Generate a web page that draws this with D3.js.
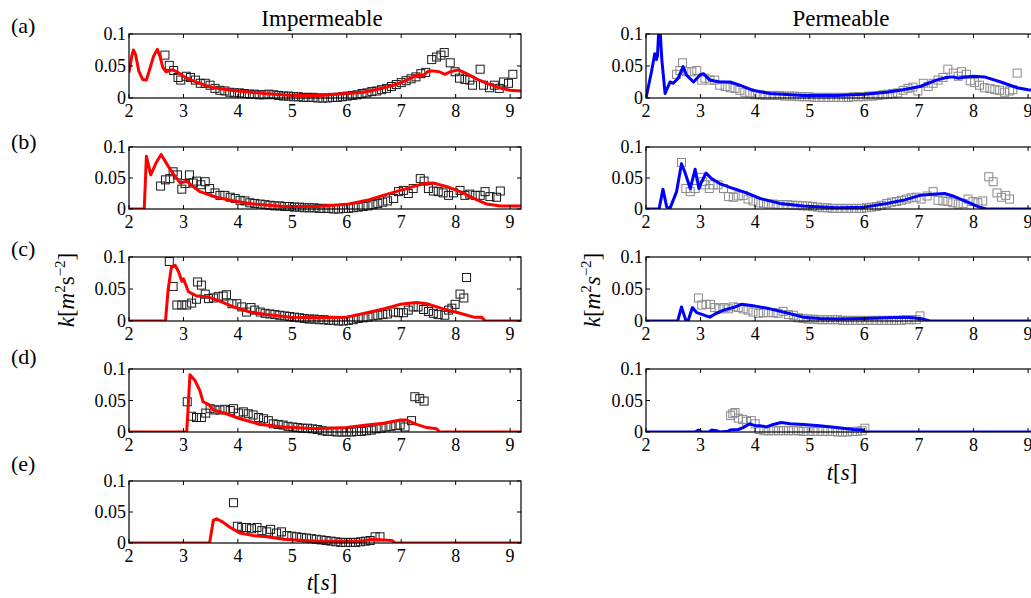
<!DOCTYPE html>
<html><head><meta charset="utf-8">
<script src="https://cdn.jsdelivr.net/npm/d3@7"></script>
</head><body style="margin:0">
<svg id="c" width="1031" height="598"></svg>
<script>
// ---- tick definitions ----
const xTicks = [2,3,4,5,6,7,8,9];
const yTicks = [0,0.05,0.1];
const yTickLabels = ["0","0.05","0.1"];
const panelLetters = ["(a)","(b)","(c)","(d)","(e)"];

// ---- Impermeable: measured (squares) ----
const impExpA = [[2.66,.067],[2.74,.051],[2.82,.043],[2.90,.032],[2.95,.028],[3.05,.034],[3.13,.032],[3.22,.028],[3.31,.023],[3.40,.023],[3.49,.020],[3.58,.015],[3.67,.012],[3.76,.011],[3.85,.009],[3.94,.008],[4.03,.008],[4.12,.007],[4.21,.006],[4.30,.006],[4.39,.005],[4.48,.005],[4.57,.006],[4.66,.005],[4.75,.004],[4.84,.003],[4.93,.003],[5.02,.002],[5.11,.002],[5.20,.001],[5.29,.001],[5.38,.001],[5.47,.000],[5.56,.000],[5.65,.000],[5.74,.001],[5.83,.001],[5.92,.002],[6.01,.003],[6.10,.004],[6.19,.005],[6.28,.007],[6.37,.008],[6.46,.010],[6.55,.011],[6.64,.013],[6.73,.015],[6.82,.018],[6.91,.021],[7.00,.024],[7.09,.027],[7.18,.030],[7.27,.033],[7.36,.038],[7.45,.040],[7.56,.060],[7.65,.064],[7.73,.067],[7.79,.071],[7.90,.055],[7.99,.041],[8.07,.031],[8.17,.029],[8.26,.028],[8.31,.020],[8.45,.045],[8.51,.020],[8.62,.016],[8.71,.020],[8.80,.015],[8.88,.025],[8.97,.023],[9.05,.037]];
const impExpB = [[2.58,.037],[2.67,.047],[2.75,.049],[2.81,.060],[2.89,.055],[2.97,.032],[3.03,.041],[3.11,.055],[3.18,.042],[3.24,.045],[3.32,.039],[3.40,.044],[3.48,.033],[3.58,.026],[3.67,.022],[3.76,.022],[3.86,.019],[3.95,.017],[4.04,.014],[4.13,.013],[4.22,.010],[4.31,.009],[4.41,.008],[4.50,.007],[4.59,.006],[4.68,.005],[4.77,.005],[4.86,.004],[4.95,.004],[5.04,.003],[5.13,.003],[5.22,.002],[5.31,.002],[5.40,.002],[5.49,.001],[5.58,.001],[5.67,.001],[5.76,.000],[5.85,.000],[5.94,.001],[6.03,.001],[6.12,.002],[6.21,.003],[6.30,.004],[6.39,.005],[6.48,.007],[6.57,.009],[6.66,.011],[6.75,.013],[6.86,.017],[6.95,.028],[7.04,.030],[7.13,.025],[7.22,.033],[7.35,.049],[7.42,.045],[7.50,.033],[7.59,.029],[7.68,.028],[7.77,.026],[7.87,.022],[7.96,.026],[8.08,.030],[8.17,.022],[8.26,.024],[8.36,.022],[8.45,.022],[8.54,.028],[8.63,.020],[8.75,.019],[8.82,.029]];
const impExpC = [[2.74,.093],[2.81,.054],[2.88,.025],[2.97,.025],[3.06,.025],[3.15,.028],[3.24,.034],[3.26,.061],[3.33,.056],[3.40,.042],[3.46,.035],[3.55,.036],[3.64,.038],[3.73,.039],[3.79,.041],[3.89,.027],[3.98,.027],[4.07,.022],[4.16,.014],[4.24,.021],[4.31,.017],[4.41,.014],[4.50,.012],[4.59,.011],[4.68,.010],[4.77,.009],[4.86,.008],[4.95,.007],[5.04,.006],[5.13,.005],[5.22,.004],[5.31,.003],[5.40,.003],[5.49,.002],[5.58,.002],[5.67,.001],[5.76,.001],[5.85,.000],[5.94,.000],[6.03,.001],[6.12,.002],[6.21,.004],[6.30,.005],[6.39,.006],[6.48,.008],[6.57,.009],[6.66,.010],[6.75,.011],[6.86,.014],[6.95,.013],[7.04,.013],[7.13,.017],[7.22,.022],[7.31,.022],[7.41,.018],[7.50,.015],[7.59,.012],[7.68,.010],[7.80,.009],[7.87,.017],[7.93,.020],[7.99,.026],[8.08,.042],[8.15,.036],[8.20,.068]];
const impExpD = [[3.07,.048],[3.15,.025],[3.24,.023],[3.33,.023],[3.41,.030],[3.49,.037],[3.58,.035],[3.67,.035],[3.76,.036],[3.86,.034],[3.92,.037],[4.01,.030],[4.10,.032],[4.19,.029],[4.28,.027],[4.38,.023],[4.47,.021],[4.56,.018],[4.65,.013],[4.74,.012],[4.83,.011],[4.92,.009],[5.01,.008],[5.10,.007],[5.19,.006],[5.28,.006],[5.37,.005],[5.46,.004],[5.55,.002],[5.64,.001],[5.73,.001],[5.82,.000],[5.91,.000],[6.00,.000],[6.09,.000],[6.18,.001],[6.27,.001],[6.36,.002],[6.45,.003],[6.54,.005],[6.63,.006],[6.72,.008],[6.81,.009],[6.90,.010],[6.98,.011],[7.07,.008],[7.19,.018],[7.25,.056],[7.34,.053],[7.42,.049]];
const impExpE = [[3.92,.065],[3.99,.027],[4.07,.025],[4.16,.025],[4.25,.023],[4.35,.025],[4.44,.020],[4.53,.018],[4.60,.022],[4.71,.016],[4.80,.018],[4.90,.012],[4.99,.011],[5.08,.010],[5.17,.009],[5.26,.008],[5.35,.007],[5.44,.006],[5.53,.005],[5.62,.004],[5.71,.003],[5.80,.002],[5.89,.001],[5.98,.001],[6.07,.001],[6.16,.001],[6.25,.002],[6.34,.003],[6.43,.004],[6.52,.010],[6.61,.010]];

// ---- Impermeable: model (red lines) ----
const impModA = [[2.0,.040],[2.05,.065],[2.08,.075],[2.12,.068],[2.18,.042],[2.25,.029],[2.32,.028],[2.38,.045],[2.45,.065],[2.52,.076],[2.57,.065],[2.62,.048],[2.68,.041],[2.75,.043],[2.80,.044],[2.88,.041],[3.0,.034],[3.2,.026],[3.5,.017],[3.8,.013],[4.0,.011],[4.5,.007],[5.0,.004],[5.5,.004],[6.0,.007],[6.3,.009],[6.6,.014],[6.9,.021],[7.1,.028],[7.3,.036],[7.4,.035],[7.5,.042],[7.6,.042],[7.7,.041],[7.8,.037],[7.9,.041],[8.05,.044],[8.2,.038],[8.4,.029],[8.6,.022],[8.8,.016],[9.0,.012],[9.2,.011]];
const impModB = [[2.0,0],[2.28,0],[2.32,.085],[2.40,.055],[2.50,.075],[2.59,.088],[2.70,.072],[2.81,.057],[2.94,.042],[3.06,.045],[3.15,.038],[3.30,.028],[3.61,.019],[3.92,.013],[4.28,.008],[4.84,.004],[5.45,.004],[6.0,.0075],[6.37,.014],[6.67,.022],[6.98,.030],[7.22,.036],[7.41,.041],[7.59,.042],[7.84,.036],[8.08,.028],[8.33,.017],[8.57,.008],[8.82,.005],[9.2,.005]];
const impModC = [[2.0,0],[2.67,0],[2.72,.05],[2.78,.085],[2.85,.087],[2.91,.077],[2.97,.062],[3.0,.066],[3.09,.046],[3.24,.039],[3.43,.038],[3.61,.033],[3.92,.022],[4.22,.014],[4.53,.010],[4.96,.006],[5.45,.005],[6.0,.006],[6.37,.013],[6.67,.019],[6.98,.026],[7.28,.029],[7.47,.027],[7.77,.019],[8.08,.012],[8.33,.006],[8.48,.006],[8.54,0],[9.2,0]];
const impModD = [[2,0],[3.06,0],[3.12,.091],[3.21,.082],[3.30,.066],[3.36,.048],[3.46,.044],[3.55,.035],[3.79,.029],[4.04,.021],[4.41,.012],[4.84,.008],[5.45,.005],[6.0,.007],[6.37,.011],[6.67,.014],[6.98,.019],[7.1,.019],[7.28,.012],[7.47,.007],[7.65,.005],[7.71,0],[9.2,0]];
const impModE = [[2,0],[3.48,0],[3.55,.037],[3.61,.039],[3.70,.035],[3.86,.025],[4.04,.016],[4.28,.012],[4.53,.010],[4.84,.006],[5.45,.003],[6.0,.003],[6.25,.003],[6.49,.006],[6.67,.005],[6.83,.004],[6.89,0],[9.2,0]];

// ---- Permeable: measured (grey squares) ----
const perExpA = [[2.56,.037],[2.62,.043],[2.67,.055],[2.74,.041],[2.84,.041],[2.93,.043],[3.02,.028],[3.08,.031],[3.17,.028],[3.26,.028],[3.35,.020],[3.45,.018],[3.54,.016],[3.63,.015],[3.72,.012],[3.81,.009],[3.90,.008],[4.00,.005],[4.09,.005],[4.18,.004],[4.27,.004],[4.36,.004],[4.45,.004],[4.54,.003],[4.63,.003],[4.72,.003],[4.81,.002],[4.90,.002],[4.99,.002],[5.08,.001],[5.17,.001],[5.26,.001],[5.35,.001],[5.44,.001],[5.53,.001],[5.62,.001],[5.71,.001],[5.80,.002],[5.89,.002],[5.98,.002],[6.07,.003],[6.16,.003],[6.25,.004],[6.34,.005],[6.43,.006],[6.52,.007],[6.61,.008],[6.71,.012],[6.80,.015],[6.89,.017],[6.98,.011],[7.08,.023],[7.17,.018],[7.26,.023],[7.35,.028],[7.44,.032],[7.53,.045],[7.63,.039],[7.72,.034],[7.78,.041],[7.87,.037],[7.94,.027],[8.02,.024],[8.11,.020],[8.20,.016],[8.30,.015],[8.39,.013],[8.48,.012],[8.57,.009],[8.66,.011],[8.72,.013],[8.80,.039]];
const perExpB = [[2.65,.075],[2.73,.033],[2.81,.028],[2.90,.033],[2.99,.051],[3.04,.044],[3.08,.039],[3.16,.033],[3.23,.039],[3.32,.039],[3.42,.033],[3.51,.020],[3.60,.019],[3.69,.021],[3.78,.022],[3.87,.016],[3.96,.013],[4.06,.010],[4.15,.009],[4.24,.008],[4.33,.008],[4.42,.007],[4.51,.007],[4.60,.007],[4.69,.006],[4.78,.006],[4.87,.005],[4.96,.005],[5.05,.004],[5.14,.003],[5.23,.002],[5.32,.002],[5.41,.001],[5.50,.001],[5.59,.001],[5.68,.001],[5.77,.001],[5.86,.001],[5.95,.001],[6.04,.002],[6.13,.003],[6.22,.004],[6.31,.006],[6.41,.009],[6.50,.011],[6.59,.012],[6.68,.014],[6.77,.016],[6.86,.018],[6.95,.019],[7.04,.016],[7.15,.021],[7.26,.028],[7.35,.014],[7.44,.013],[7.53,.012],[7.62,.010],[7.72,.008],[7.81,.009],[7.90,.016],[7.99,.012],[8.08,.010],[8.17,.013],[8.28,.052],[8.36,.044],[8.43,.026],[8.51,.019],[8.59,.022],[8.66,.016]];
const perExpC = [[2.96,.036],[3.02,.025],[3.10,.026],[3.18,.026],[3.26,.021],[3.34,.019],[3.43,.021],[3.51,.019],[3.60,.022],[3.69,.021],[3.78,.019],[3.87,.017],[3.96,.014],[4.06,.012],[4.15,.013],[4.24,.013],[4.33,.013],[4.42,.012],[4.51,.015],[4.61,.010],[4.70,.009],[4.79,.005],[4.88,.004],[4.97,.003],[5.06,.003],[5.15,.002],[5.24,.002],[5.33,.002],[5.42,.002],[5.51,.002],[5.60,.001],[5.69,.001],[5.78,.001],[5.87,.001],[5.96,.001],[6.05,.001],[6.14,.001],[6.23,.001],[6.32,.001],[6.41,.001],[6.50,.001],[6.59,.001],[6.68,.001],[6.77,.002],[6.86,.002],[6.95,.002],[7.02,.008]];
const perExpD = [[3.55,.026],[3.59,.029],[3.63,.031],[3.69,.022],[3.77,.020],[3.84,.017],[3.93,.018],[4.00,.013],[4.07,.004],[4.16,.002],[4.25,.002],[4.34,.002],[4.43,.002],[4.52,.002],[4.61,.002],[4.70,.002],[4.79,.002],[4.88,.001],[4.97,.001],[5.06,.001],[5.15,.001],[5.24,.001],[5.33,.001],[5.42,.001],[5.51,.000],[5.60,.000],[5.69,.000],[5.78,.001],[5.87,.001],[5.96,.002],[6.01,.006]];

// ---- Permeable: model (blue lines) ----
const perModA = [[2.0,0],[2.10,.041],[2.16,.069],[2.19,.060],[2.21,.066],[2.245,.125],[2.29,.06],[2.35,.007],[2.44,.025],[2.50,.023],[2.59,.031],[2.68,.049],[2.74,.036],[2.87,.025],[2.99,.036],[3.05,.038],[3.17,.028],[3.35,.025],[3.54,.025],[3.72,.020],[3.96,.012],[4.27,.007],[4.88,.004],[5.49,.004],[6.0,.006],[6.41,.009],[6.71,.013],[7.02,.018],[7.32,.028],[7.50,.032],[7.62,.033],[7.72,.031],[7.85,.033],[8.0,.034],[8.2,.033],[8.5,.025],[8.8,.016],[9.0,.013],[9.2,.011]];
const perModB = [[2,0],[2.24,0],[2.31,.032],[2.38,.003],[2.44,.001],[2.56,.028],[2.65,.073],[2.71,.060],[2.81,.033],[2.90,.064],[2.97,.033],[3.02,.044],[3.10,.058],[3.20,.049],[3.35,.041],[3.60,.033],[3.84,.026],[4.09,.017],[4.45,.009],[4.88,.005],[5.49,.002],[6.0,.003],[6.41,.009],[6.71,.014],[7.02,.022],[7.32,.024],[7.47,.025],[7.62,.021],[7.87,.012],[8.11,.003],[8.24,0],[9.2,0]];
const perModC = [[2,0],[2.58,0],[2.65,.022],[2.73,.001],[2.77,0],[2.85,.021],[2.93,.013],[3.17,.006],[3.29,.012],[3.42,.017],[3.60,.021],[3.75,.026],[3.96,.024],[4.27,.019],[4.57,.013],[4.88,.006],[5.18,.004],[5.49,.003],[6.0,.004],[6.41,.005],[6.71,.006],[6.89,.005],[7.08,.003],[7.20,0],[9.2,0]];
const perModD = [[2,0],[2.9,0],[2.96,.003],[3.02,0],[3.15,0],[3.20,.003],[3.29,.002],[3.35,0],[3.50,.001],[3.54,.003],[3.69,.004],[3.78,.007],[3.90,.013],[4.0,.010],[4.09,.010],[4.21,.008],[4.33,.012],[4.48,.015],[4.64,.013],[4.88,.012],[5.18,.010],[5.49,.007],[5.80,.004],[5.98,.003],[6.01,0],[9.2,0]];

// ---- layout ----
const tops = [34,147,257,369,481];
const bottoms = [98,209,321,432,543];
const cols = [
  {x0:129, x1:521, exps:[impExpA,impExpB,impExpC,impExpD,impExpE], mods:[impModA,impModB,impModC,impModD,impModE], line:"#ff0000", sq:"#1a1a1a"},
  {x0:646, x1:1039, exps:[perExpA,perExpB,perExpC,perExpD], mods:[perModA,perModB,perModC,perModD], line:"#0000ff", sq:"#8a8a8a"}
];

const svg = d3.select("#c");
const defs = svg.append("defs");
let clipId = 0;
function txt(sel) { return sel.append("text").style("font-family", "Liberation Serif").attr("fill", "#000"); }

cols.forEach((col) => {
  col.exps.forEach((exp, pi) => {
    const top = tops[pi], bot = bottoms[pi];
    const x = d3.scaleLinear().domain([2, 9.2]).range([col.x0, col.x1]);
    const y = d3.scaleLinear().domain([0, 0.1]).range([bot, top]);
    const g = svg.append("g");
    const id = "clip" + (clipId++);
    defs.append("clipPath").attr("id", id).append("rect")
      .attr("x", col.x0).attr("y", top).attr("width", col.x1 - col.x0).attr("height", bot - top);

    g.append("g").selectAll("rect").data(exp).join("rect")
      .attr("x", d => x(d[0]) - 4).attr("y", d => y(d[1]) - 4)
      .attr("width", 8).attr("height", 8)
      .attr("fill", "none").attr("stroke", col.sq).attr("stroke-width", 1);

    g.append("path").datum(col.mods[pi])
      .attr("clip-path", `url(#${id})`)
      .attr("d", d3.line().x(d => x(d[0])).y(d => y(d[1])))
      .attr("fill", "none").attr("stroke", col.line).attr("stroke-width", 3)
      .attr("stroke-linejoin", "round");

    g.append("rect").attr("x", col.x0).attr("y", top)
      .attr("width", col.x1 - col.x0).attr("height", bot - top)
      .attr("fill", "none").attr("stroke", "#000").attr("stroke-width", 1.2);

    xTicks.forEach(t => {
      const px = x(t);
      g.append("line").attr("x1", px).attr("x2", px).attr("y1", bot).attr("y2", bot - 4).attr("stroke", "#000");
      g.append("line").attr("x1", px).attr("x2", px).attr("y1", top).attr("y2", top + 4).attr("stroke", "#000");
      txt(g).attr("x", px).attr("y", bot + 19).attr("text-anchor", "middle")
        .attr("font-size", 18).text(t);
    });
    yTicks.forEach((v, i) => {
      const py = y(v);
      g.append("line").attr("x1", col.x0).attr("x2", col.x0 + 4).attr("y1", py).attr("y2", py).attr("stroke", "#000");
      g.append("line").attr("x1", col.x1).attr("x2", col.x1 - 4).attr("y1", py).attr("y2", py).attr("stroke", "#000");
      txt(g).attr("x", col.x0 - 3).attr("y", py).attr("dy", "0.35em")
        .attr("text-anchor", "end").attr("font-size", 18).text(yTickLabels[i]);
    });
  });
});

const letterY = [33, 149, 256, 364, 471];
panelLetters.forEach((l, i) => {
  txt(svg).attr("x", 11).attr("y", letterY[i]).attr("font-size", 22).text(l);
});

txt(svg).attr("x", 322).attr("y", 26).attr("text-anchor", "middle").attr("font-size", 23).text("Impermeable");
txt(svg).attr("x", 841).attr("y", 26).attr("text-anchor", "middle").attr("font-size", 23).text("Permeable");

function yLabel(cx, cy, italicS) {
  const t = txt(svg).attr("transform", `translate(${cx},${cy}) rotate(-90)`)
    .attr("text-anchor", "middle").attr("font-size", 23);
  t.append("tspan").attr("font-style", "italic").text("k");
  t.append("tspan").text("[");
  t.append("tspan").attr("font-style", "italic").text("m");
  t.append("tspan").attr("font-size", 15).attr("dy", -9).text("2");
  t.append("tspan").attr("dy", 9).attr("font-style", italicS ? "italic" : "normal").text("s");
  t.append("tspan").attr("font-size", 15).attr("dy", -9).text("\u22122");
  t.append("tspan").attr("dy", 9).text("]");
}
yLabel(74, 290, false);
yLabel(600, 290, true);

function xLabel(cx, cy) {
  const t = txt(svg).attr("x", cx).attr("y", cy).attr("text-anchor", "middle").attr("font-size", 23);
  t.append("tspan").attr("font-style", "italic").text("t");
  t.append("tspan").text("[");
  t.append("tspan").attr("font-style", "italic").text("s");
  t.append("tspan").text("]");
}
xLabel(322, 590);
xLabel(842, 480);
</script>
</body></html>
